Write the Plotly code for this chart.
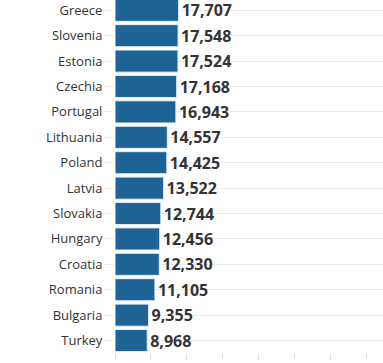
import plotly.graph_objects as go

countries = ["Greece", "Slovenia", "Estonia", "Czechia", "Portugal", "Lithuania",
             "Poland", "Latvia", "Slovakia", "Hungary", "Croatia", "Romania",
             "Bulgaria", "Turkey"]
values = [17707, 17548, 17524, 17168, 16943, 14557, 14425, 13522, 12744,
          12456, 12330, 11105, 9355, 8968]
tick_vals = [0, 10000, 20000, 30000, 40000, 50000, 60000, 70000]
tick_text = ["0", "", "20,000", "", "40,000", "", "60,000", ""]

order = countries[::-1]
vals = values[::-1]

fig = go.Figure(go.Bar(
    x=vals, y=order, orientation="h",
    marker=dict(color="#1d6396", line=dict(color="#e8eef4", width=1)),
    text=[f"{v:,}" for v in vals], textposition="outside",
    textfont=dict(family="Open Sans", size=16, color="#333333", weight="bold"),
    cliponaxis=False, hoverinfo="skip",
))

fig.update_layout(
    width=383, height=363,
    margin=dict(l=114.5, r=0, t=0, b=10),
    plot_bgcolor="white", paper_bgcolor="white",
    bargap=0.13, showlegend=False,
    font=dict(family="Open Sans", color="#333333"),
)
fig.update_yaxes(
    type="category", categoryorder="array", categoryarray=order,
    range=[-0.49, 13.405], showgrid=True, gridcolor="#ececec", gridwidth=1,
    ticks="outside", ticklen=9, tickcolor="#ececec",
    tickfont=dict(family="Open Sans", size=13, color="#333333"),
    showline=False, zeroline=False, automargin=False,
)
fig.update_xaxes(
    range=[0, 74583], tickvals=tick_vals, ticktext=tick_text,
    showgrid=False, zeroline=False, showline=False,
    ticks="outside", ticklen=6, tickcolor="#dddddd",
    tickfont=dict(family="Open Sans", size=12, color="#555555"),
    automargin=False,
)
fig.write_html(
    "out.html",
    config={"displayModeBar": False},
    post_script="document.body.style.margin='0';document.body.style.overflow='hidden';",
)
